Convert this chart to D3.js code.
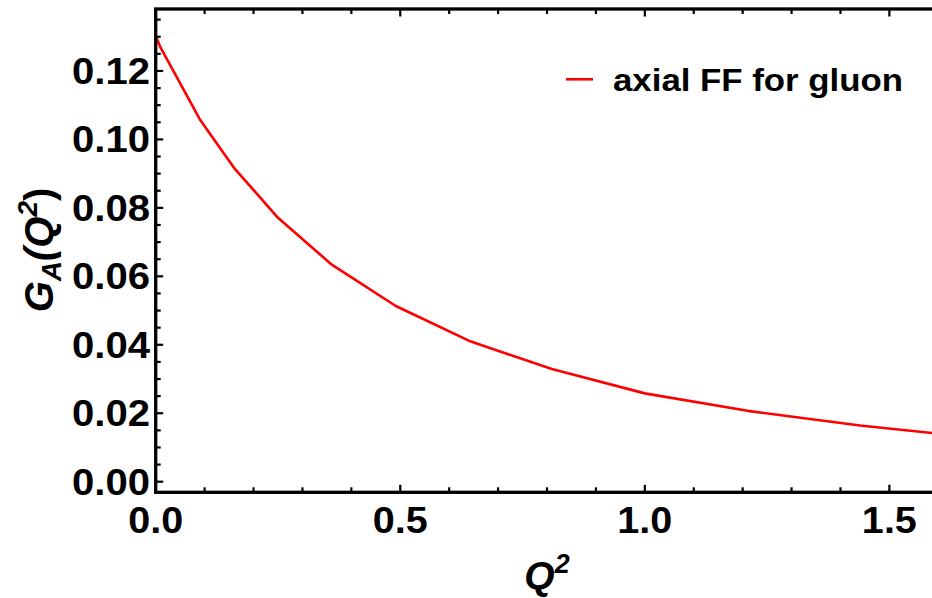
<!DOCTYPE html>
<html>
<head>
<meta charset="utf-8">
<script src="https://cdn.jsdelivr.net/npm/d3@7"></script>
<style>
  html, body { margin: 0; padding: 0; background: #fff; }
  svg { display: block; }
  text { font-family: "Liberation Sans", Arial, sans-serif; font-weight: bold; fill: #000; }
</style>
</head>
<body>
<svg id="chart" width="932" height="598"></svg>
<script>
// Gluon axial form factor G_A(Q^2), sampled at Q^2 = n^2/100
const q2Values = [0, 0.01, 0.04, 0.09, 0.16, 0.25, 0.36, 0.49, 0.64, 0.81, 1.00, 1.21, 1.44, 1.69];
const gaValues = [0.1302, 0.1268, 0.1190, 0.1059, 0.0917, 0.0771, 0.0634, 0.0514, 0.0412, 0.0329, 0.0258, 0.0207, 0.0164, 0.0127];

const xMajorTicks = [0.0, 0.5, 1.0, 1.5];
const yMajorTicks = [0.00, 0.02, 0.04, 0.06, 0.08, 0.10, 0.12];
const seriesName = "axial FF for gluon";

const svg = d3.select("#chart");
const plot = { left: 155.7, top: 9, right: 938.3, bottom: 492.3 };

const x = d3.scaleLinear().domain([0, 1.6]).range([plot.left, plot.right]);
const y = d3.scaleLinear().domain([-0.0031, 0.1381]).range([plot.bottom, plot.top]);

const xMinor = d3.range(0, 1.6001, 0.1).filter(v => !xMajorTicks.some(t => Math.abs(t - v) < 1e-9));
const yMinor = d3.range(0, 0.1381, 0.005).filter(v => !yMajorTicks.some(t => Math.abs(t - v) < 1e-9));

// clip the curve to the frame
svg.append("defs").append("clipPath").attr("id", "clip")
  .append("rect").attr("x", plot.left).attr("y", plot.top)
  .attr("width", plot.right - plot.left).attr("height", plot.bottom - plot.top);

// curve
const pts = q2Values.map((q, i) => [q, gaValues[i]]);
svg.append("path")
  .datum(pts)
  .attr("clip-path", "url(#clip)")
  .attr("fill", "none")
  .attr("stroke", "#ff0000")
  .attr("stroke-width", 2.6)
  .attr("stroke-linejoin", "round")
  .attr("d", d3.line().x(d => x(d[0])).y(d => y(d[1])));

// frame ticks (inward)
const tickG = svg.append("g").attr("stroke", "#000");
function ticksX(vals, len, yBase, dir, w) {
  tickG.selectAll(null).data(vals).enter().append("line")
    .attr("x1", d => x(d)).attr("x2", d => x(d))
    .attr("y1", yBase).attr("y2", yBase + dir * len)
    .attr("stroke-width", w);
}
function ticksY(vals, len, xBase, dir, w) {
  tickG.selectAll(null).data(vals).enter().append("line")
    .attr("y1", d => y(d)).attr("y2", d => y(d))
    .attr("x1", xBase).attr("x2", xBase + dir * len)
    .attr("stroke-width", w);
}
ticksX(xMajorTicks, 7.5, plot.bottom, -1, 2.2);
ticksX(xMinor, 5, plot.bottom, -1, 2.2);
ticksX(xMajorTicks, 7.5, plot.top, 1, 2.2);
ticksX(xMinor, 5, plot.top, 1, 2.2);
ticksY(yMajorTicks, 7.5, plot.left, 1, 2.2);
ticksY(yMinor, 5, plot.left, 1, 2.2);

// frame lines
svg.append("rect")
  .attr("x", plot.left).attr("y", plot.top)
  .attr("width", plot.right - plot.left).attr("height", plot.bottom - plot.top)
  .attr("fill", "none").attr("stroke", "#000").attr("stroke-width", 3.3);

// tick labels (slightly wide bold face)
svg.append("g").selectAll("text").data(yMajorTicks).enter().append("text")
  .attr("x", 150).attr("y", d => y(d))
  .attr("dy", "0.36em")
  .attr("text-anchor", "end")
  .attr("font-size", 36)
  .attr("textLength", 78)
  .attr("lengthAdjust", "spacingAndGlyphs")
  .text(d => d3.format(".2f")(d));

svg.append("g").selectAll("text").data(xMajorTicks).enter().append("text")
  .attr("x", d => x(d)).attr("y", 533)
  .attr("text-anchor", "middle")
  .attr("font-size", 36)
  .attr("textLength", 55)
  .attr("lengthAdjust", "spacingAndGlyphs")
  .text(d => d3.format(".1f")(d));

// axis titles
const xt = svg.append("text")
  .attr("x", (plot.left + plot.right) / 2).attr("y", 589)
  .attr("text-anchor", "middle")
  .attr("font-size", 39)
  .attr("font-style", "italic");
xt.append("tspan").text("Q");
xt.append("tspan").attr("font-size", 27).attr("dy", -16).text("2");

const yt = svg.append("text")
  .attr("transform", `translate(53, ${250}) rotate(-90)`)
  .attr("text-anchor", "middle")
  .attr("font-size", 40)
  .attr("font-style", "italic");
yt.append("tspan").text("G");
yt.append("tspan").attr("font-size", 28).attr("dy", 8).text("A");
yt.append("tspan").attr("dy", -8).text("(Q");
yt.append("tspan").attr("font-size", 28).attr("dy", -16).text("2");
yt.append("tspan").attr("dy", 16).attr("font-style", "normal").text(")");

// legend
const legY = 79.3;
svg.append("line")
  .attr("x1", 566).attr("x2", 593).attr("y1", legY).attr("y2", legY)
  .attr("stroke", "#ff0000").attr("stroke-width", 2.6);
svg.append("text")
  .attr("x", 613).attr("y", legY).attr("dy", "0.35em")
  .attr("font-size", 32)
  .attr("textLength", 290)
  .attr("lengthAdjust", "spacingAndGlyphs")
  .text(seriesName);
</script>
</body>
</html>
